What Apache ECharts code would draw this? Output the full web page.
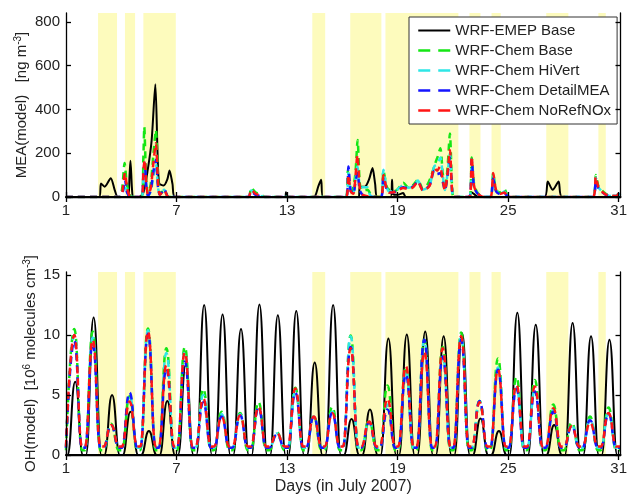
<!DOCTYPE html>
<html>
<head>
<meta charset="utf-8">
<script src="https://cdn.jsdelivr.net/npm/echarts@6/dist/echarts.min.js"></script>
<style>
  html, body { margin:0; padding:0; background:#fff; }
  #chart { width:630px; height:496px; }
</style>
</head>
<body>
<div id="chart"></div>
<script>
// ====== data ======
const dayTicks = [1, 7, 13, 19, 25, 31];
const meaTicks = [0, 200, 400, 600, 800];
const ohTicks  = [0, 5, 10, 15];

// shaded (yellow) day ranges
const shadedDays = [
  [2.74, 3.77], [4.2, 4.75], [5.2, 6.96], [14.37, 15.07], [16.43, 18.12],
  [18.34, 22.3], [22.9, 23.5], [24.1, 24.6], [27.07, 28.27], [29.9, 30.3]
];

const seriesNames = ['WRF-EMEP Base', 'WRF-Chem Base', 'WRF-Chem HiVert', 'WRF-Chem DetailMEA', 'WRF-Chem NoRefNOx'];

// MEA(model) [ng m-3] : [day, value]
const meaEmep = [[1,0],[2.8,0],[2.9,62],[3.1,47],[3.43,86],[3.65,30],[3.82,0],[4.35,0],[4.45,100],[4.5,165],[4.58,40],[4.65,0],
  [4.95,0],[5.2,20],[5.43,120],[5.65,260],[5.85,515],[5.97,200],[6.06,62],[6.3,52],[6.5,80],[6.62,121],[6.78,60],[6.92,0],
  [12.9,0],[12.94,22],[12.98,0],[14.45,0],[14.7,50],[14.85,79],[14.95,0],[16.88,0],[16.95,45],[17.25,48],[17.45,80],[17.64,132],
  [17.78,60],[17.9,0],[18.62,0],[18.7,79],[18.76,12],[19.0,10],[19.3,18],[19.45,0],[22.85,0],[23.0,22],[23.2,10],[23.4,0],
  [26.97,0],[27.15,71],[27.42,33],[27.74,71],[27.93,0],[30.85,0],[31.0,15],[31.1,10]];
const meaBase = [[1,0],[3.9,0],[4.05,40],[4.18,155],[4.3,60],[4.45,10],[4.6,0],[5.1,0],[5.2,180],[5.25,320],[5.35,80],[5.45,15],
  [5.6,60],[5.75,200],[5.88,306],[6.0,80],[6.1,15],[6.33,30],[6.5,5],[6.6,0],[10.9,0],[11.05,42],[11.3,20],[11.6,10],[11.8,0],
  [16.2,0],[16.3,120],[16.4,40],[16.5,20],[16.7,100],[16.83,260],[16.95,60],[17.1,30],[17.37,33],[17.6,5],[18.1,0],[18.23,120],
  [18.4,50],[18.5,35],[18.77,25],[19.0,35],[19.31,65],[19.6,42],[19.85,55],[20.1,79],[20.37,38],[20.6,54],[20.8,90],[21.05,155],
  [21.2,190],[21.32,223],[21.45,110],[21.57,35],[21.7,120],[21.84,290],[21.95,60],[22.05,0],[22.9,0],[23.02,180],[23.15,60],
  [23.3,25],[23.5,5],[23.7,0],[24.05,0],[24.19,109],[24.35,30],[24.6,20],[24.8,36],[24.95,10],[25.1,0],[29.6,0],[29.76,101],
  [29.9,50],[30.1,30],[30.3,15],[30.5,5],[30.9,5],[31.0,18],[31.1,10]];
const meaHiVert = [[1,0],[3.95,0],[4.1,30],[4.2,60],[4.32,20],[4.5,0],[5.1,0],[5.2,80],[5.27,120],[5.37,30],[5.45,5],[5.6,25],
  [5.75,100],[5.88,150],[6.0,40],[6.1,10],[6.33,33],[6.5,5],[6.6,0],[10.9,0],[11.05,30],[11.3,12],[11.6,4],[11.8,0],[16.2,0],
  [16.33,110],[16.45,30],[16.6,18],[16.7,70],[16.82,139],[16.95,50],[17.1,45],[17.35,45],[17.5,10],[17.7,0],[18.1,0],[18.23,124],
  [18.4,45],[18.55,25],[18.8,25],[19.0,35],[19.31,55],[19.6,42],[19.85,50],[20.1,75],[20.37,33],[20.73,52],[20.99,140],[21.15,150],
  [21.32,180],[21.45,100],[21.57,32],[21.7,100],[21.84,200],[21.95,45],[22.05,0],[22.9,0],[23.02,170],[23.15,50],[23.3,20],
  [23.5,5],[23.7,0],[24.05,0],[24.19,95],[24.35,28],[24.6,15],[24.8,25],[24.95,5],[25.1,0],[29.6,0],[29.76,88],[29.9,45],
  [30.1,25],[30.3,12],[30.5,5],[30.9,5],[31.0,15],[31.1,8]];
const meaDetail = [[1,0],[3.95,0],[4.1,30],[4.2,80],[4.32,20],[4.5,0],[5.1,0],[5.2,100],[5.27,155],[5.37,40],[5.45,5],[5.6,30],
  [5.75,120],[5.88,170],[6.0,40],[6.1,10],[6.33,36],[6.5,5],[6.6,0],[10.9,0],[11.05,25],[11.3,10],[11.6,3],[11.8,0],[16.2,0],
  [16.33,139],[16.45,30],[16.6,15],[16.7,60],[16.82,109],[16.95,30],[17.1,10],[17.3,3],[17.5,0],[18.1,0],[18.23,90],[18.4,35],
  [18.55,20],[18.8,22],[19.0,30],[19.31,45],[19.6,38],[19.85,48],[20.1,72],[20.37,32],[20.73,52],[20.99,120],[21.15,105],
  [21.32,109],[21.45,70],[21.57,30],[21.7,90],[21.84,185],[21.95,40],[22.05,0],[22.9,0],[23.02,170],[23.15,45],[23.3,20],
  [23.5,5],[23.7,0],[24.05,0],[24.19,85],[24.35,25],[24.6,12],[24.8,15],[24.95,5],[25.1,0],[29.6,0],[29.76,75],[29.9,40],
  [30.1,22],[30.3,10],[30.5,4],[30.9,4],[31.0,12],[31.1,6]];
const meaNoRef = [[1,0],[3.95,0],[4.1,50],[4.2,110],[4.32,40],[4.45,5],[4.6,0],[5.1,0],[5.2,120],[5.27,170],[5.37,50],[5.45,10],
  [5.6,40],[5.75,160],[5.88,245],[6.0,60],[6.1,10],[6.33,30],[6.5,5],[6.6,0],[10.9,0],[11.05,33],[11.3,15],[11.6,5],[11.8,0],
  [16.2,0],[16.33,100],[16.45,25],[16.6,15],[16.7,80],[16.82,192],[16.95,40],[17.1,10],[17.3,5],[17.5,0],[18.1,0],[18.23,100],
  [18.4,40],[18.55,20],[18.8,22],[19.0,30],[19.31,41],[19.6,35],[19.85,45],[20.1,70],[20.37,30],[20.73,50],[20.99,132],[21.15,120],
  [21.3,140],[21.45,80],[21.57,30],[21.7,100],[21.84,215],[21.95,40],[22.05,0],[22.9,0],[23.02,185],[23.15,50],[23.3,20],
  [23.5,5],[23.7,0],[24.05,0],[24.19,109],[24.35,30],[24.6,15],[24.8,20],[24.95,5],[25.1,0],[29.6,0],[29.76,93],[29.9,45],
  [30.1,25],[30.3,12],[30.5,5],[30.9,5],[31.0,15],[31.1,8]];

// OH(model) daily midday peaks, days 1..30 [10^6 molecules cm-3]
const ohEmepPeak   = [6.1,11.45,5.0,3.6,2.0,4.5,7.5,12.5,11.7,10.5,12.55,11.65,12.0,7.7,12.5,3.0,3.8,9.7,10.05,10.3,9.9,10.15,3.05,2.0,11.85,10.85,2.5,11.0,9.9,9.6];
const ohBasePeak   = [10.5,10.3,2.6,4.9,10.55,8.9,9.0,5.5,3.6,3.5,4.4,1.9,5.6,3.3,4.0,9.95,2.9,5.8,7.3,9.6,9.0,10.2,4.5,8.05,6.5,6.25,4.2,2.7,3.2,3.95];
const ohHiVertPeak = [10.0,9.8,2.5,5.0,10.4,8.5,8.6,5.0,3.4,3.4,4.0,1.8,5.3,3.2,3.6,9.9,2.8,4.2,7.0,9.6,8.2,9.9,4.5,7.3,5.6,5.4,3.8,2.5,3.0,3.5];
const ohDetailPeak = [9.5,9.3,2.5,5.2,10.1,7.2,7.8,4.4,3.2,3.3,3.9,1.7,5.2,3.2,3.5,9.0,2.7,3.8,6.7,9.6,8.2,9.6,4.5,7.1,5.5,5.3,3.6,2.4,2.9,3.4];
const ohNoRefPeak  = [10.0,9.6,2.5,4.45,10.3,7.5,8.55,4.7,3.2,3.3,4.0,1.8,5.55,3.2,3.5,8.9,2.8,4.7,7.4,8.6,8.9,9.9,4.4,7.1,5.85,5.7,3.9,2.4,2.7,3.5];
// night-time levels
const ohNight = [0, 0.4, 0.6, 0.6, 0.7];

// ====== helpers ======
function dayCurve(peaks, night, rise, top, set){
  const pts = [[1, night]];
  peaks.forEach((p, i) => {
    const d = i + 1;
    pts.push([d + rise, night], [d + top, p], [d + set, night]);
  });
  pts.push([31.1, night]);
  return pts;
}

const FONT = "'Liberation Sans', Arial, sans-serif";
const colors = ['#000000', '#14e614', '#2ee6e6', '#1414ff', '#ff1414'];
const yellow = '#fdfbbd';

function mkSeries(name, idx, data, gi, smooth, mono){
  const s = {
    name, type: 'line', data,
    xAxisIndex: gi * 2, yAxisIndex: gi * 2,
    showSymbol: false, symbol: 'none', smooth,
    lineStyle: idx === 0
      ? { color: colors[0], width: 2 }
      : { color: colors[idx], width: 2.5, type: [7, 5] },
    itemStyle: { color: colors[idx] },
    z: 2 + idx,
    animation: false,
  };
  if (mono) s.smoothMonotone = 'x';
  if (idx === 0){
    s.markArea = {
      silent: true,
      itemStyle: { color: yellow },
      data: shadedDays.map(([a, b]) => [{ xAxis: a }, { xAxis: b }]),
    };
  }
  return s;
}

const meaData = [meaEmep, meaBase, meaHiVert, meaDetail, meaNoRef];
const ohData = [
  dayCurve(ohEmepPeak,   ohNight[0], 0.08, 0.5,  0.92),
  dayCurve(ohBasePeak,   ohNight[1], 0.03, 0.45, 0.87),
  dayCurve(ohHiVertPeak, ohNight[2], 0.03, 0.45, 0.87),
  dayCurve(ohDetailPeak, ohNight[3], 0.03, 0.45, 0.87),
  dayCurve(ohNoRefPeak,  ohNight[4], 0.03, 0.45, 0.87),
];

const series = [];
seriesNames.forEach((n, i) => series.push(mkSeries(n, i, meaData[i], 0, 0.25, false)));
seriesNames.forEach((n, i) => series.push(mkSeries(n, i, ohData[i], 1, 0.5, true)));

// ====== axes ======
function xAx(gi, mirror){
  return {
    type: 'value', gridIndex: gi, min: 1, max: 31.1,
    position: mirror ? 'top' : 'bottom',
    z: 20,
    axisLine: { show: true, lineStyle: { color: '#000', width: mirror ? 1.3 : 2 } },
    axisTick: { show: true, inside: true, length: 5, customValues: dayTicks, lineStyle: { color: '#000', width: 1.3 } },
    axisLabel: mirror ? { show: false } : { customValues: dayTicks, fontSize: 15, fontFamily: FONT, color: '#222', margin: 6 },
    splitLine: { show: false },
    name: (!mirror && gi === 1) ? 'Days (in July 2007)' : '',
    nameLocation: 'middle', nameGap: 24, nameMoveOverlap: false,
    nameTextStyle: { fontSize: 16, fontFamily: FONT, color: '#222' },
  };
}
function yAx(gi, mirror, max, ticks, name, gap){
  return {
    type: 'value', gridIndex: gi, min: 0, max,
    position: mirror ? 'right' : 'left',
    z: 20,
    axisLine: { show: true, lineStyle: { color: '#000', width: 1.3 } },
    axisTick: { show: true, inside: true, length: 5, customValues: ticks, lineStyle: { color: '#000', width: 1.3 } },
    axisLabel: mirror ? { show: false } : { customValues: ticks, fontSize: 15, fontFamily: FONT, color: '#222', margin: 6 },
    splitLine: { show: false },
    name: mirror ? '' : name,
    nameLocation: 'middle', nameRotate: 90, nameGap: gap, nameMoveOverlap: false,
    nameTextStyle: {
      fontFamily: FONT, color: '#222',
      rich: {
        a: { fontSize: 15, fontFamily: FONT, color: '#222', lineHeight: 18 },
        s: { fontSize: 10, fontFamily: FONT, color: '#222', verticalAlign: 'top', lineHeight: 18 },
      },
    },
  };
}

const chart = echarts.init(document.getElementById('chart'), null, { renderer: 'canvas' });
chart.setOption({
  animation: false,
  backgroundColor: '#fff',
  grid: [
    { left: 66, right: 5, top: 13, height: 184 },
    { left: 66, right: 5, top: 272, height: 183 },
  ],
  xAxis: [xAx(0, false), xAx(0, true), xAx(1, false), xAx(1, true)],
  yAxis: [
    yAx(0, false, 840, meaTicks, '{a|MEA(model)   [ng m}{s|-3}{a|]}', 35),
    yAx(0, true, 840, meaTicks, '', 0),
    yAx(1, false, 15.25, ohTicks, '{a|OH(model)  [10}{s|6}{a| molecules cm}{s|-3}{a|]}', 26),
    yAx(1, true, 15.25, ohTicks, '', 0),
  ],
  legend: {
    data: seriesNames.map((n, i) => ({
      name: n,
      lineStyle: i === 0 ? { type: 'solid', width: 2 } : { type: [12, 8], width: 2.5 },
    })),
    orient: 'vertical',
    left: 409, top: 17,
    padding: [6, 6, 6, 8],
    itemWidth: 32, itemHeight: 12, itemGap: 5,
    itemStyle: { opacity: 0, borderWidth: 0 },
    backgroundColor: '#fff',
    borderColor: '#333', borderWidth: 1, borderRadius: 0,
    textStyle: { fontSize: 15, fontFamily: FONT, color: '#222' },
    selectedMode: false,
  },
  series,
});
</script>
</body>
</html>
